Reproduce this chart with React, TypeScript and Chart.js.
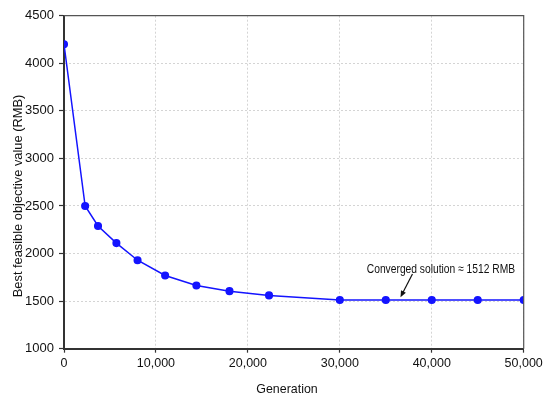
import React, { useEffect, useRef } from "react";
import { Chart, registerables } from "chart.js";

Chart.register(...registerables);

const generations = [0, 2300, 3700, 5700, 8000, 11000, 14400, 18000, 22300, 30000, 35000, 40000, 45000, 50000];
const bestValues = [4200, 2500, 2290, 2110, 1930, 1770, 1665, 1605, 1560, 1512, 1512, 1512, 1512, 1512];

const xTitle = "Generation";
const yTitle = "Best feasible objective value (RMB)";
const annotationText = "Converged solution \u2248 1512 RMB";
// annotation anchors in data units
const annotationTextAt = { x: 41000, y: 1838 };
const arrowFrom = { x: 37900, y: 1785 };
const arrowTo = { x: 36600, y: 1540 };

const FONT = "'Liberation Sans', Arial, sans-serif";
const LINE_COLOR = "rgb(20, 20, 255)";

const decorPlugin = {
  id: "decor",
  afterDraw(chart: any) {
    const { ctx, chartArea, scales } = chart;
    const xs = scales.x;
    const ys = scales.y;
    ctx.save();
    // top and right frame
    ctx.strokeStyle = "#555";
    ctx.lineWidth = 1.2;
    ctx.beginPath();
    ctx.moveTo(chartArea.left, chartArea.top);
    ctx.lineTo(chartArea.right, chartArea.top);
    ctx.lineTo(chartArea.right, chartArea.bottom);
    ctx.stroke();

    // axis titles
    ctx.fillStyle = "#111";
    ctx.font = `13.5px ${FONT}`;
    ctx.textAlign = "center";
    ctx.textBaseline = "middle";
    ctx.save();
    ctx.translate(287, 389);
    ctx.scale(0.92, 1);
    ctx.fillText(xTitle, 0, 0);
    ctx.restore();
    ctx.save();
    ctx.translate(18, 196);
    ctx.rotate(-Math.PI / 2);
    ctx.scale(0.95, 1);
    ctx.fillText(yTitle, 0, 0);
    ctx.restore();

    // annotation text
    ctx.save();
    ctx.font = `13px ${FONT}`;
    ctx.translate(xs.getPixelForValue(annotationTextAt.x), ys.getPixelForValue(annotationTextAt.y));
    ctx.scale(0.79, 1);
    ctx.fillText(annotationText, 0, 0);
    ctx.restore();

    // arrow
    const x1 = xs.getPixelForValue(arrowFrom.x);
    const y1 = ys.getPixelForValue(arrowFrom.y);
    const x2 = xs.getPixelForValue(arrowTo.x);
    const y2 = ys.getPixelForValue(arrowTo.y);
    const ang = Math.atan2(y2 - y1, x2 - x1);
    const head = 7;
    ctx.strokeStyle = "#111";
    ctx.lineWidth = 1.2;
    ctx.beginPath();
    ctx.moveTo(x1, y1);
    ctx.lineTo(x2 - Math.cos(ang) * head * 0.6, y2 - Math.sin(ang) * head * 0.6);
    ctx.stroke();
    ctx.fillStyle = "#111";
    ctx.beginPath();
    ctx.moveTo(x2, y2);
    ctx.lineTo(x2 - head * Math.cos(ang - 0.4), y2 - head * Math.sin(ang - 0.4));
    ctx.lineTo(x2 - head * Math.cos(ang + 0.4), y2 - head * Math.sin(ang + 0.4));
    ctx.closePath();
    ctx.fill();
    ctx.restore();
  },
};

export default function App() {
  const ref = useRef<HTMLCanvasElement | null>(null);
  useEffect(() => {
    if (!ref.current) return;
    const chart = new Chart(ref.current, {
      type: "line",
      data: {
        datasets: [
          {
            label: "Best feasible",
            data: generations.map((g, i) => ({ x: g, y: bestValues[i] })),
            borderColor: LINE_COLOR,
            backgroundColor: LINE_COLOR,
            pointBackgroundColor: LINE_COLOR,
            pointBorderColor: LINE_COLOR,
            pointRadius: 3.3,
            borderWidth: 1.5,
            tension: 0,
          },
        ],
      },
      options: {
        animation: false,
        responsive: false,
        maintainAspectRatio: false,
        layout: { padding: { top: 15.7, right: 26.3, left: 0, bottom: 0 } },
        plugins: { legend: { display: false }, tooltip: { enabled: false } },
        scales: {
          x: {
            type: "linear",
            min: 0,
            max: 50000,
            ticks: {
              stepSize: 10000,
              color: "#111",
              font: { family: FONT, size: 12.5 },
              padding: 3,
              maxRotation: 0,
              callback: (v: any) => Number(v).toLocaleString("en-US"),
            },
            grid: {
              color: "#d4d4d4",
              lineWidth: 1,
              tickLength: 4,
              tickColor: "#333",
              tickWidth: 1.2,
              tickBorderDash: [],
            },
            border: { display: true, color: "#333", width: 2, dash: [2, 2] },
            afterFit: (s: any) => {
              s.height = 63.3;
            },
          },
          y: {
            min: 1000,
            max: 4500,
            ticks: {
              stepSize: 500,
              color: "#111",
              font: { family: FONT, size: 13 },
              padding: 5,
              callback: (v: any) => String(v),
            },
            grid: {
              color: "#d4d4d4",
              lineWidth: 1,
              tickLength: 5,
              tickColor: "#333",
              tickWidth: 1.2,
              tickBorderDash: [],
            },
            border: { display: true, color: "#333", width: 2, dash: [2, 2] },
            afterFit: (s: any) => {
              s.width = 64;
            },
          },
        },
      },
      plugins: [decorPlugin],
    });
    return () => chart.destroy();
  }, []);
  return (
    <div style={{ position: "absolute", left: 0, top: 0, width: 550, height: 412, background: "#fff" }}>
      <canvas ref={ref} width={550} height={412} style={{ width: 550, height: 412 }} />
    </div>
  );
}
